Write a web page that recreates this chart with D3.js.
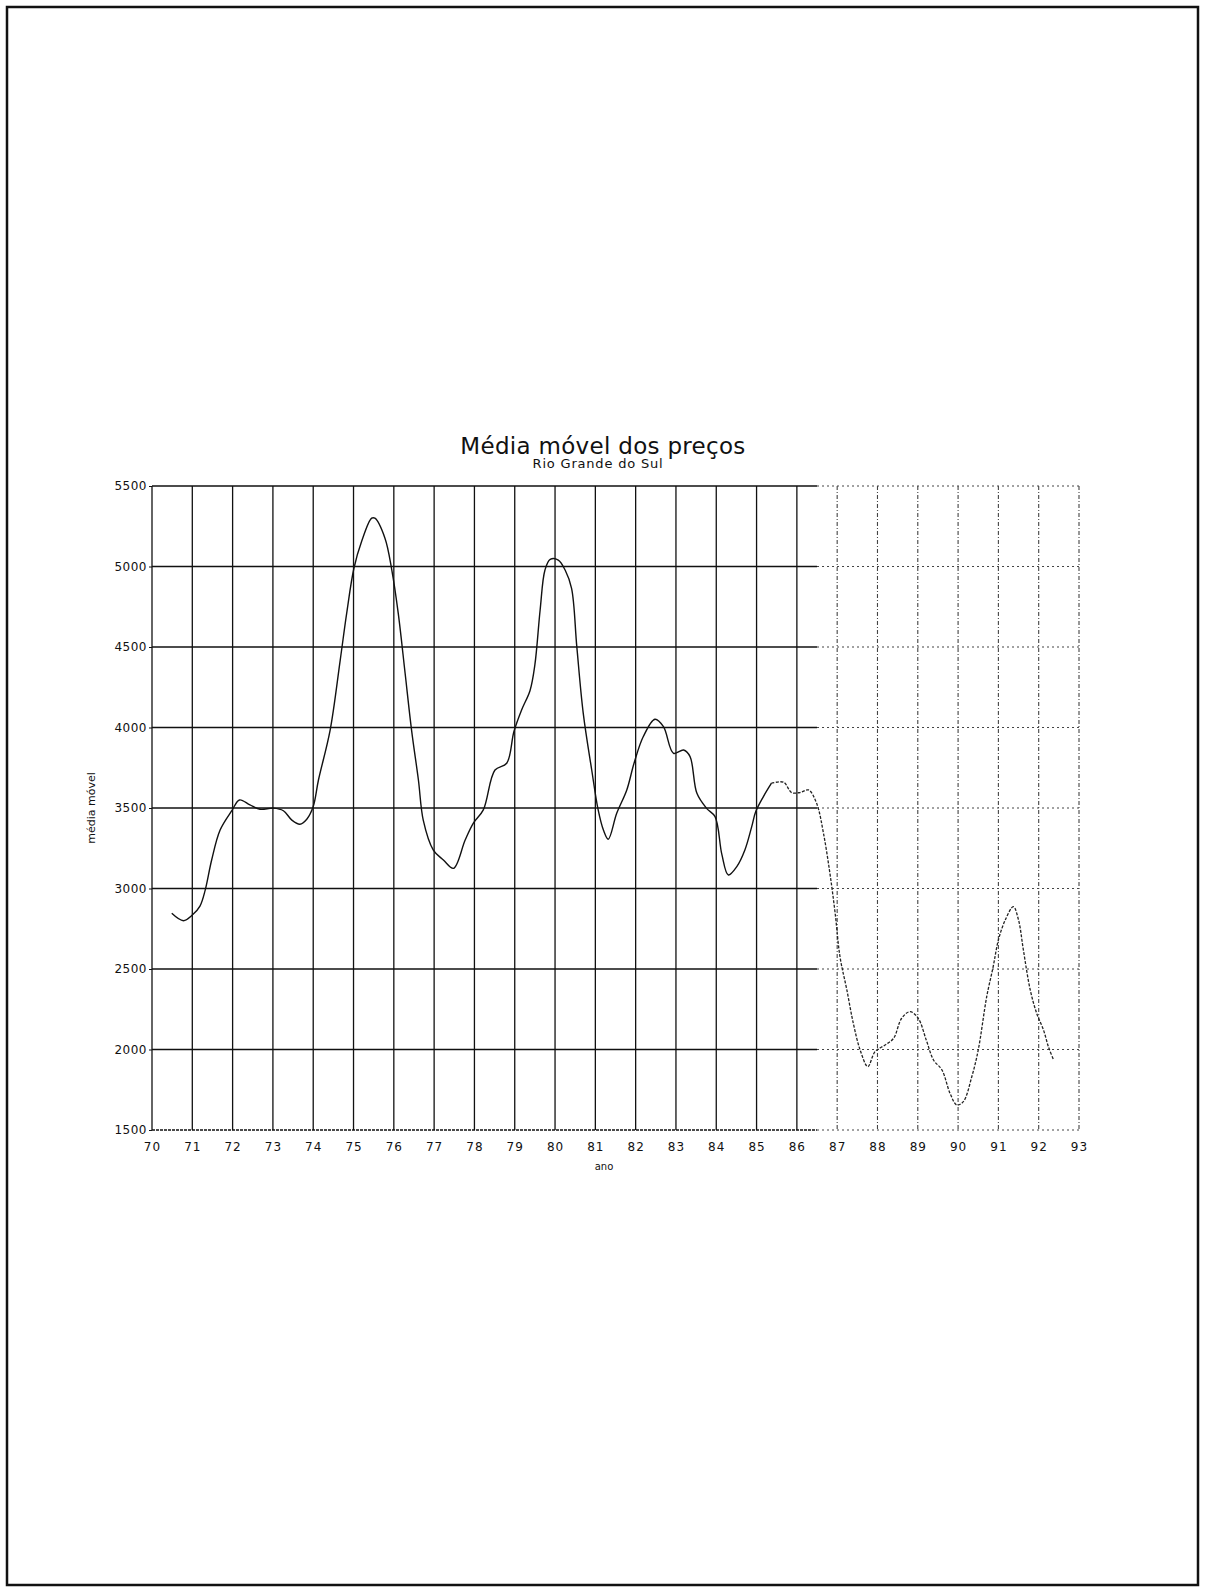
<!DOCTYPE html>
<html>
<head>
<meta charset="utf-8">
<script src="https://cdn.jsdelivr.net/npm/d3@7"></script>
<style>
    body { margin: 0; background: #fff; }
    svg { display: block; }
    .tick text { font-family: "DejaVu Sans", sans-serif; }
</style>
</head>
<body>
<div id="chart"></div>
<script>
const width = 1205
const height = 1587

// moving average of prices (year 19xx, value)
const anos = [70.49, 70.78, 71.0, 71.19, 71.32, 71.48, 71.69, 71.98, 72.17, 72.43, 72.68, 73.01, 73.26, 73.47, 73.67, 73.84,
    74.0, 74.13, 74.42, 74.67, 74.83, 75.01, 75.2, 75.45, 75.53, 75.78, 75.95, 76.11, 76.28, 76.44, 76.61, 76.73,
    76.98, 77.23, 77.48, 77.77, 77.97, 78.22, 78.51, 78.8, 78.98, 79.17, 79.38, 79.5, 79.63, 79.75, 79.88, 80.08,
    80.25, 80.41, 80.54, 80.7, 80.91, 81.07, 81.2, 81.32, 81.53, 81.78, 81.96, 82.19, 82.48, 82.69, 82.94, 83.19,
    83.35, 83.52, 83.76, 83.97, 84.14, 84.3, 84.51, 84.71, 84.88, 84.98, 85.17, 85.37, 85.67, 85.87, 86.08, 86.29,
    86.49, 86.66, 86.82, 86.95, 87.07, 87.24, 87.4, 87.57, 87.76, 87.94, 88.19, 88.4, 88.6, 88.81, 89.01, 89.21,
    89.39, 89.6, 89.8, 89.97, 90.13, 90.34, 90.5, 90.71, 90.87, 91.0, 91.17, 91.37, 91.5, 91.62, 91.79, 91.95,
    92.12, 92.24, 92.37]
const mediaMovel = [2846, 2800, 2835, 2891, 2990, 3177, 3363, 3483, 3550, 3519, 3492, 3499, 3483, 3425, 3399, 3430,
    3509, 3674, 3984, 4419, 4709, 4989, 5155, 5300, 5300, 5176, 4978, 4709, 4337, 3984, 3674, 3425,
    3239, 3177, 3125, 3301, 3405, 3488, 3736, 3778, 3975, 4109, 4230, 4390, 4730, 4978, 5044, 5040,
    4978, 4864, 4502, 4088, 3736, 3488, 3363, 3306, 3467, 3612, 3778, 3944, 4051, 4005, 3840, 3860,
    3819, 3591, 3498, 3446, 3210, 3084, 3136, 3239, 3384, 3478, 3571, 3654, 3660, 3596, 3596, 3612,
    3529, 3343, 3094, 2846, 2576, 2370, 2163, 1997, 1894, 1987, 2028, 2070, 2194, 2235, 2194, 2059,
    1935, 1873, 1728, 1655, 1676, 1831, 1997, 2328, 2514, 2680, 2804, 2887, 2804, 2618, 2370, 2225,
    2121, 2018, 1935]

const xTicks = d3.range(70, 94)
const yTicks = [1500, 2000, 2500, 3000, 3500, 4000, 4500, 5000, 5500]

const titulo = "Média móvel dos preços"
const subtitulo = "Rio Grande do Sul"

const data = anos.map((a, i) => ({ ano: a, valor: mediaMovel[i] }))

const x = d3.scaleLinear().domain([70, 93]).range([152, 1079])
const y = d3.scaleLinear().domain([1500, 5500]).range([1130, 486])

// where the scanned plot starts to fade into dots
const fadeAt = 86.5

const svg = d3.select('#chart').append("svg")
    .attr("width", width)
    .attr("height", height)

// page frame
svg.append("rect")
    .attr("x", 7).attr("y", 7)
    .attr("width", 1191).attr("height", 1578)
    .attr("fill", "none")
    .attr("stroke", "#111")
    .attr("stroke-width", 2.5)

//horizontal gridlines, solid then dotted
const hGrid = svg.append("g")
hGrid.selectAll(".hSolid")
    .data(yTicks)
    .enter().append("line")
    .attr("x1", x(70)).attr("x2", x(fadeAt))
    .attr("y1", d => y(d)).attr("y2", d => y(d))
    .attr("stroke", "#111")
    .attr("stroke-width", 1.3)
    .attr("stroke-dasharray", d => d == 1500 ? "3,1" : null)
hGrid.selectAll(".hDot")
    .data(yTicks)
    .enter().append("line")
    .attr("x1", x(fadeAt)).attr("x2", x(93))
    .attr("y1", d => y(d)).attr("y2", d => y(d))
    .attr("stroke", "#444")
    .attr("stroke-width", 1.1)
    .attr("stroke-dasharray", "2,3")

//vertical gridlines
svg.append("g").selectAll("line")
    .data(xTicks)
    .enter().append("line")
    .attr("x1", d => x(d)).attr("x2", d => x(d))
    .attr("y1", y(5500)).attr("y2", y(1500))
    .attr("stroke", d => d > fadeAt ? "#444" : "#111")
    .attr("stroke-width", d => d > fadeAt ? 1.1 : 1.3)
    .attr("stroke-dasharray", d => d > fadeAt ? "4,2,1,2" : null)

// axes, only for the labels
const xAxis = svg.append("g")
    .attr("transform", "translate(0," + y(1500) + ")")
    .call(d3.axisBottom(x).tickValues(xTicks).tickSize(0).tickPadding(12))
xAxis.select(".domain").remove()
xAxis.selectAll("text").attr("font-size", 12).attr("fill", "#111").attr("letter-spacing", 1)

const yAxis = svg.append("g")
    .attr("transform", "translate(" + x(70) + ",0)")
    .call(d3.axisLeft(y).tickValues(yTicks).tickFormat(d3.format("d")).tickSize(3).tickPadding(2))
yAxis.select(".domain").remove()
yAxis.selectAll("line").attr("stroke", "#111")
yAxis.selectAll("text").attr("font-size", 12).attr("fill", "#111").attr("letter-spacing", 0.5)

// the series: solid part and the faded part
const line = d3.line()
    .x(d => x(d.ano))
    .y(d => y(d.valor))
    .curve(d3.curveCatmullRom.alpha(0.5))

const cut = 85.2
svg.append("path")
    .datum(data.filter(d => d.ano <= cut + 0.2))
    .attr("d", line)
    .attr("fill", "none")
    .attr("stroke", "#111")
    .attr("stroke-width", 1.4)
svg.append("path")
    .datum(data.filter(d => d.ano >= cut))
    .attr("d", line)
    .attr("fill", "none")
    .attr("stroke", "#222")
    .attr("stroke-width", 1.3)
    .attr("stroke-dasharray", "3,1.5")

//titles
svg.append("text")
    .attr("x", 603).attr("y", 454)
    .attr("text-anchor", "middle")
    .attr("font-family", "DejaVu Sans, sans-serif")
    .attr("font-size", 23)
    .attr("letter-spacing", 0.3)
    .attr("fill", "#111")
    .text(titulo)
svg.append("text")
    .attr("x", 598).attr("y", 468)
    .attr("text-anchor", "middle")
    .attr("font-family", "DejaVu Sans, sans-serif")
    .attr("font-size", 13)
    .attr("letter-spacing", 0.8)
    .attr("fill", "#111")
    .text(subtitulo)

svg.append("text")
    .attr("x", 604).attr("y", 1170)
    .attr("text-anchor", "middle")
    .attr("font-family", "DejaVu Sans, sans-serif")
    .attr("font-size", 10)
    .attr("fill", "#111")
    .text("ano")

svg.append("text")
    .attr("transform", "translate(95,808) rotate(-90)")
    .attr("text-anchor", "middle")
    .attr("font-family", "DejaVu Sans, sans-serif")
    .attr("font-size", 11)
    .attr("fill", "#111")
    .text("média móvel")
</script>
</body>
</html>
